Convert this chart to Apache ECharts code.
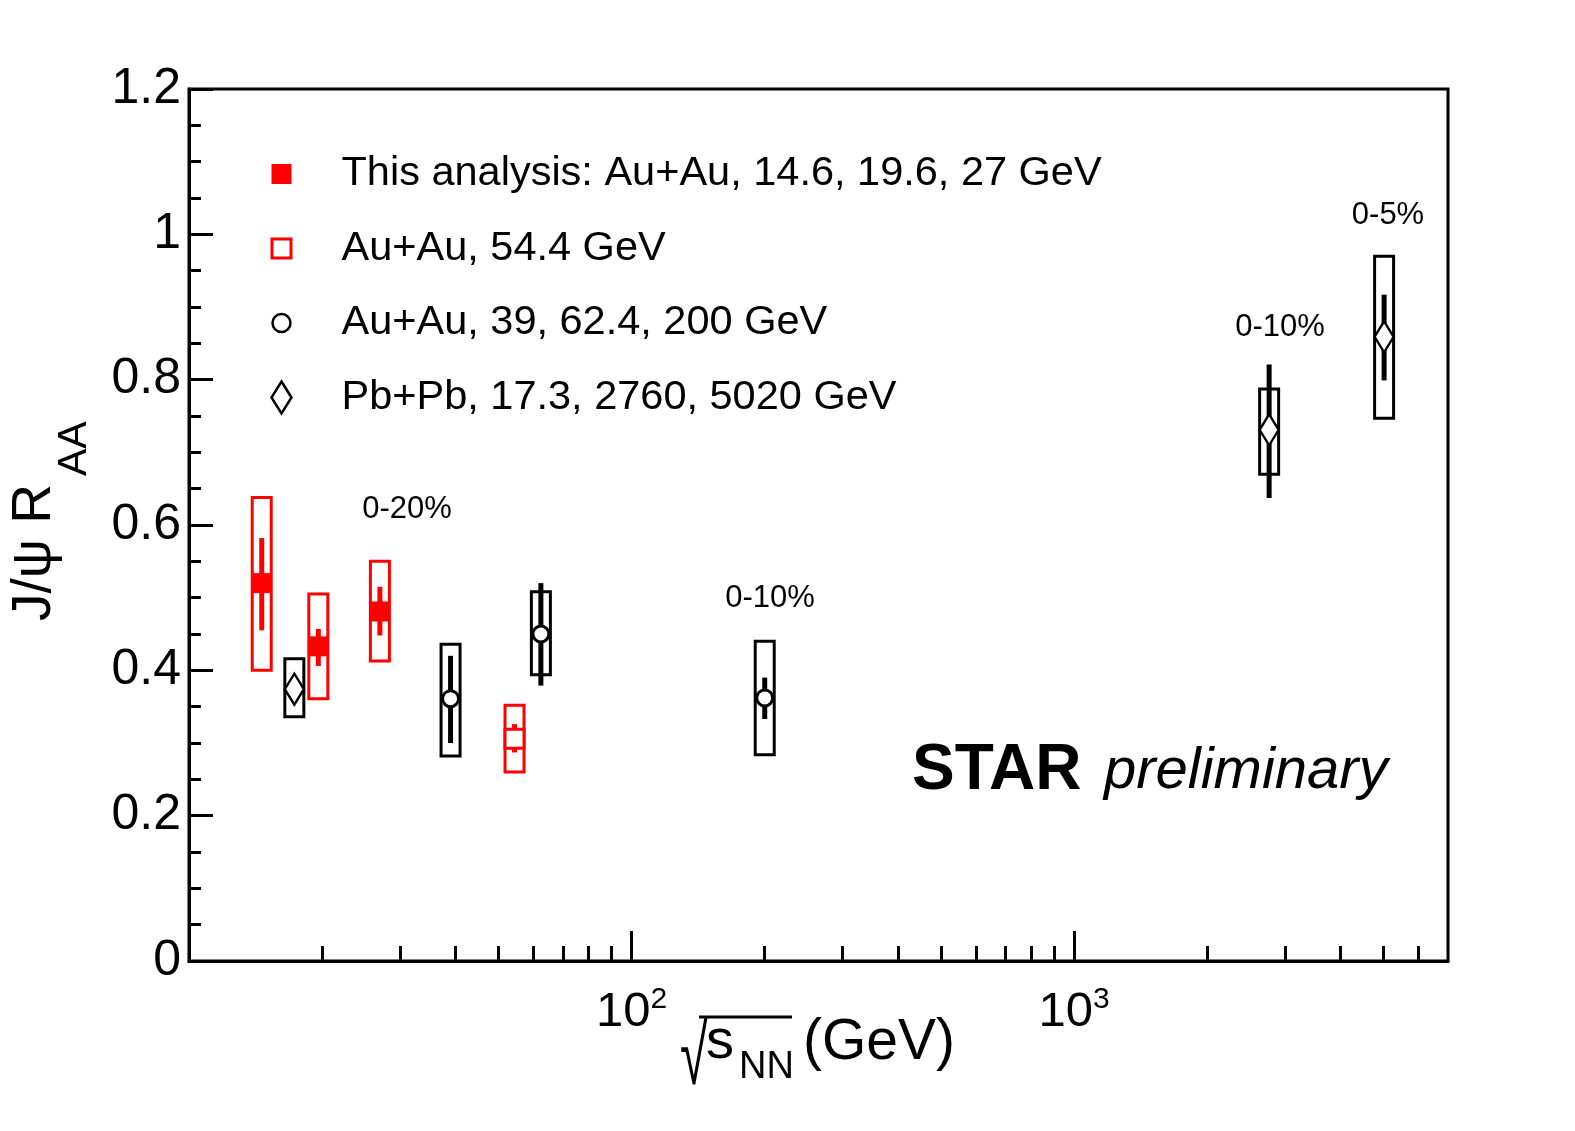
<!DOCTYPE html>
<html><head><meta charset="utf-8">
<script src="https://cdn.jsdelivr.net/npm/echarts@6/dist/echarts.min.js"></script>
<style>html,body{margin:0;padding:0;background:#fff;overflow:hidden}#c{width:1575px;height:1131px}</style>
</head><body><div id="c"></div>
<script>
// ---- data ----
const legendNames = [
  'This analysis: Au+Au, 14.6, 19.6, 27 GeV',
  'Au+Au, 54.4 GeV',
  'Au+Au, 39, 62.4, 200 GeV',
  'Pb+Pb, 17.3, 2760, 5020 GeV'
];
// This analysis (red filled squares)
const thisX = [14.6, 19.6, 27];
const thisY = [0.520, 0.433, 0.481];
const thisStatLo = [0.455, 0.406, 0.448];
const thisStatHi = [0.582, 0.457, 0.515];
const thisSysLo = [0.400, 0.361, 0.413];
const thisSysHi = [0.638, 0.505, 0.550];
// Au+Au 54.4 GeV (red open square)
const au54X = [54.4];
const au54Y = [0.306];
const au54StatLo = [0.287];
const au54StatHi = [0.326];
const au54SysLo = [0.260];
const au54SysHi = [0.352];
// Au+Au 39, 62.4, 200 GeV (open circles)
const auX = [39, 62.4, 200];
const auY = [0.361, 0.450, 0.362];
const auStatLo = [0.300, 0.379, 0.333];
const auStatHi = [0.420, 0.520, 0.390];
const auSysLo = [0.282, 0.394, 0.284];
const auSysHi = [0.436, 0.508, 0.440];
// Pb+Pb 17.3, 2760, 5020 GeV (open diamonds)
const pbX = [17.3, 2760, 5020];
const pbY = [0.374, 0.731, 0.859];
const pbStatLo = [0.362, 0.637, 0.799];
const pbStatHi = [0.386, 0.821, 0.917];
const pbSysLo = [0.336, 0.670, 0.747];
const pbSysHi = [0.416, 0.787, 0.970];
// axis ticks
const yTicks = [0, 0.2, 0.4, 0.6, 0.8, 1, 1.2];
const xMajorTicks = [100, 1000];
const xMinorTicks = [20, 30, 40, 50, 60, 70, 80, 90, 200, 300, 400, 500, 600, 700, 800, 900, 2000, 3000, 4000, 5000, 6000];
// centrality annotations
const annotations = ['0-20%', '0-10%', '0-10%', '0-5%'];

// ---- chart ----
const FONT = 'Liberation Sans, Arial, Helvetica, sans-serif';
const RED = '#ff0000', BLACK = '#000000';
const chart = echarts.init(document.getElementById('c'), null, {renderer: 'canvas', width: 1575, height: 1131});

function zip(xs, a, b) { return xs.map((x, i) => [x, a[i], b[i]]); }
function pts(xs, ys) { return xs.map((x, i) => [x, ys[i]]); }

function sysSeries(xs, lo, hi, color) {
  return {
    type: 'custom', xAxisIndex: 0, yAxisIndex: 0, z: 2, silent: true,
    data: zip(xs, lo, hi),
    encode: {x: 0, y: [1, 2]},
    renderItem: function (params, api) {
      const top = api.coord([api.value(0), api.value(2)]);
      const bot = api.coord([api.value(0), api.value(1)]);
      return {type: 'rect', shape: {x: top[0] - 9.5, y: top[1], width: 19, height: bot[1] - top[1]},
        style: {fill: 'none', stroke: color, lineWidth: 3}};
    }
  };
}
function statSeries(xs, lo, hi, color, w) {
  return {
    type: 'custom', xAxisIndex: 0, yAxisIndex: 0, z: 3, silent: true,
    data: zip(xs, lo, hi),
    encode: {x: 0, y: [1, 2]},
    renderItem: function (params, api) {
      const top = api.coord([api.value(0), api.value(2)]);
      const bot = api.coord([api.value(0), api.value(1)]);
      return {type: 'line', shape: {x1: top[0], y1: top[1], x2: bot[0], y2: bot[1]},
        style: {stroke: color, lineWidth: w}};
    }
  };
}
function markerSeries(name, xs, ys, symbol, size, fill, stroke, bw) {
  return {
    name: name, type: 'scatter', xAxisIndex: 0, yAxisIndex: 0, z: 5, silent: true,
    symbol: symbol, symbolSize: size,
    itemStyle: {color: fill, borderColor: stroke, borderWidth: bw, opacity: 1},
    data: pts(xs, ys)
  };
}

const BB = 'M-12,-17M12,17';
const legendIcons = [
  'path://' + BB + 'M-10,-10L10,-10L10,10L-10,10Z',
  'path://' + BB + 'M-9.5,-9.5L9.5,-9.5L9.5,9.5L-9.5,9.5Z',
  'path://' + BB + 'M-9,0A9,9 0 1,0 9,0A9,9 0 1,0 -9,0Z',
  'path://' + BB + 'M0,-16L10,0L0,16L-10,0Z'
];

const supDigits = v => String(Math.round(Math.log10(v)));

const option = {
  animation: false,
  backgroundColor: '#ffffff',
  grid: {left: 189, top: 89, width: 1259, height: 872, show: true, borderColor: BLACK, borderWidth: 3,
    containLabel: false, outerBoundsMode: 'none'},
  xAxis: [
    {
      type: 'log', logBase: 10, min: 10, max: 7000, position: 'bottom',
      axisLine: {show: true, onZero: false, lineStyle: {color: BLACK, width: 3}},
      axisTick: {show: true, inside: true, length: 30, customValues: xMajorTicks, lineStyle: {color: BLACK, width: 3}},
      axisLabel: {
        show: true, customValues: xMajorTicks, margin: 24,
        formatter: v => '{b|10}{s|' + supDigits(v) + '}',
        rich: {
          b: {fontFamily: FONT, fontSize: 49, lineHeight: 52, color: BLACK, verticalAlign: 'bottom'},
          s: {fontFamily: FONT, fontSize: 30, lineHeight: 30, color: BLACK, verticalAlign: 'top'}
        }
      },
      splitLine: {show: false}, minorTick: {show: false}
    },
    {
      type: 'log', logBase: 10, min: 10, max: 7000, position: 'bottom', gridIndex: 0,
      axisLine: {show: false},
      axisTick: {show: true, inside: true, length: 15, customValues: xMinorTicks, lineStyle: {color: BLACK, width: 3}},
      axisLabel: {show: false},
      splitLine: {show: false}
    }
  ],
  yAxis: {
    type: 'value', min: 0, max: 1.2, interval: 0.2,
    axisLine: {show: true, onZero: false, lineStyle: {color: BLACK, width: 3}},
    axisTick: {show: true, inside: true, length: 24, customValues: yTicks, lineStyle: {color: BLACK, width: 3}},
    minorTick: {show: true, splitNumber: 4, length: 12, lineStyle: {color: BLACK, width: 3}},
    axisLabel: {show: true, margin: 8, fontFamily: FONT, fontSize: 50, color: BLACK,
      customValues: yTicks, formatter: v => String(+v.toFixed(1))},
    splitLine: {show: false}, minorSplitLine: {show: false}
  },
  legend: {
    show: true, orient: 'vertical', left: 263, top: 148,
    itemWidth: 24, itemHeight: 34, itemGap: 32.5, symbolKeepAspect: true,
    selectedMode: false,
    textStyle: {fontFamily: FONT, fontSize: 41.5, color: BLACK, padding: [0, 0, 0, 43]},
    data: [
      {name: legendNames[0], icon: legendIcons[0], itemStyle: {color: RED, borderColor: RED, borderWidth: 0}},
      {name: legendNames[1], icon: legendIcons[1], itemStyle: {color: '#ffffff', borderColor: RED, borderWidth: 3}},
      {name: legendNames[2], icon: legendIcons[2], itemStyle: {color: '#ffffff', borderColor: BLACK, borderWidth: 2.5}},
      {name: legendNames[3], icon: legendIcons[3], itemStyle: {color: '#ffffff', borderColor: BLACK, borderWidth: 2.5}}
    ]
  },
  series: [
    sysSeries(thisX, thisSysLo, thisSysHi, RED),
    sysSeries(au54X, au54SysLo, au54SysHi, RED),
    sysSeries(auX, auSysLo, auSysHi, BLACK),
    sysSeries(pbX, pbSysLo, pbSysHi, BLACK),
    statSeries(thisX, thisStatLo, thisStatHi, RED, 5),
    statSeries(au54X, au54StatLo, au54StatHi, RED, 5),
    statSeries(auX, auStatLo, auStatHi, BLACK, 5),
    statSeries(pbX, pbStatLo, pbStatHi, BLACK, 5),
    markerSeries(legendNames[0], thisX, thisY, 'rect', [20, 20], RED, RED, 0),
    markerSeries(legendNames[1], au54X, au54Y, 'rect', [19, 19], '#ffffff', RED, 3),
    markerSeries(legendNames[2], auX, auY, 'circle', 16, '#ffffff', BLACK, 3),
    markerSeries(legendNames[3], pbX, pbY, 'diamond', [19, 31], '#ffffff', BLACK, 2.5)
  ],
  graphic: [
    // y-axis title
    {type: 'text', x: 35, y: 621, rotation: Math.PI / 2, style: {text: 'J/\u03c8 R', fontFamily: FONT, fontSize: 55, fill: BLACK, align: 'left', verticalAlign: 'middle'}},
    {type: 'text', x: 75, y: 476, rotation: Math.PI / 2, style: {text: 'AA', fontFamily: FONT, fontSize: 41, fill: BLACK, align: 'left', verticalAlign: 'middle'}},
    // x-axis title
    {type: 'text', x: 680, y: 1061, scaleX: 0.6, style: {text: '\u221a', fontFamily: FONT, fontSize: 84, fill: BLACK, align: 'left', verticalAlign: 'middle'}},
    {type: 'line', shape: {x1: 699, y1: 1017, x2: 792, y2: 1017}, style: {stroke: BLACK, lineWidth: 3}},
    {type: 'text', x: 706, y: 1043, style: {text: 's', fontFamily: FONT, fontSize: 56, fill: BLACK, align: 'left', verticalAlign: 'middle'}},
    {type: 'text', x: 739, y: 1068, style: {text: 'NN', fontFamily: FONT, fontSize: 38, fill: BLACK, align: 'left', verticalAlign: 'middle'}},
    {type: 'text', x: 803, y: 1043, style: {text: '(GeV)', fontFamily: FONT, fontSize: 57, fill: BLACK, align: 'left', verticalAlign: 'middle'}},
    // STAR preliminary
    {type: 'text', x: 912, y: 771, style: {text: 'STAR', fontFamily: FONT, fontSize: 64, fontWeight: 'bold', fill: BLACK, align: 'left', verticalAlign: 'middle'}},
    {type: 'text', x: 1104, y: 772, style: {text: 'preliminary', fontFamily: FONT, fontSize: 58, fontStyle: 'italic', fill: BLACK, align: 'left', verticalAlign: 'middle'}},
    // centrality labels
    {type: 'text', x: 407, y: 509, style: {text: annotations[0], fontFamily: FONT, fontSize: 31, fill: BLACK, align: 'center', verticalAlign: 'middle'}},
    {type: 'text', x: 770, y: 598, style: {text: annotations[1], fontFamily: FONT, fontSize: 31, fill: BLACK, align: 'center', verticalAlign: 'middle'}},
    {type: 'text', x: 1280, y: 327, style: {text: annotations[2], fontFamily: FONT, fontSize: 31, fill: BLACK, align: 'center', verticalAlign: 'middle'}},
    {type: 'text', x: 1388, y: 215, style: {text: annotations[3], fontFamily: FONT, fontSize: 31, fill: BLACK, align: 'center', verticalAlign: 'middle'}}
  ]
};
chart.setOption(option);
</script>
</body></html>
